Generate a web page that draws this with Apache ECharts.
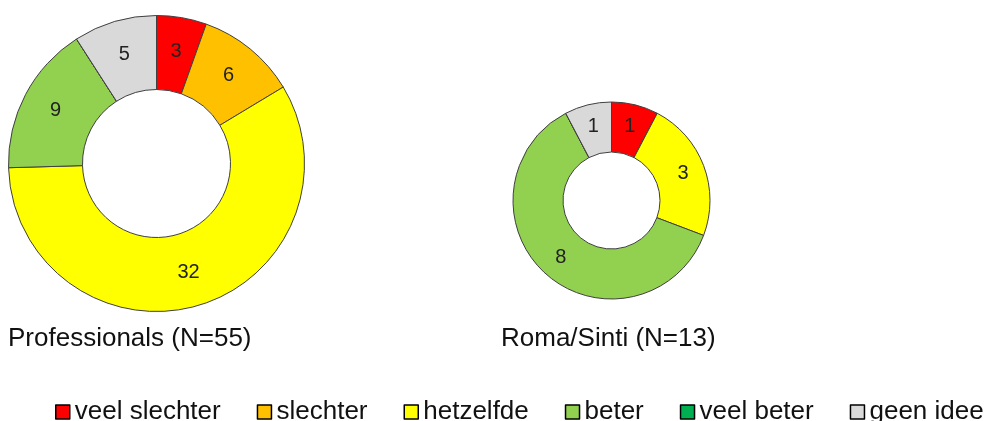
<!DOCTYPE html>
<html>
<head>
<meta charset="utf-8">
<script src="https://cdn.jsdelivr.net/npm/echarts@6/dist/echarts.min.js"></script>
<style>
html,body{margin:0;padding:0;background:#fff;}
#chart{width:989px;height:421px;}
</style>
</head>
<body>
<div id="chart"></div>
<script>
const categories = ['veel slechter', 'slechter', 'hetzelfde', 'beter', 'veel beter', 'geen idee'];
const colors = ['#FF0000', '#FFC000', '#FFFF00', '#92D050', '#00B050', '#D9D9D9'];
const professionals = [3, 6, 32, 9, 0, 5];
const romaSinti = [1, 0, 3, 8, 0, 1];
const titles = ['Professionals (N=55)', 'Roma/Sinti (N=13)'];

const FONT = '"Liberation Sans", Arial, sans-serif';

function buildData(values) {
  return categories.map((c, i) => ({
    name: c,
    value: values[i],
    itemStyle: { color: colors[i] }
  }));
}

function pieSeries(values, center, radius) {
  return {
    type: 'pie',
    center: center,
    radius: radius,
    startAngle: 90,
    clockwise: true,
    avoidLabelOverlap: false,
    silent: true,
    itemStyle: { borderColor: '#404040', borderWidth: 1 },
    label: {
      show: true,
      position: 'inside',
      formatter: p => (p.value ? String(p.value) : ''),
      fontFamily: FONT,
      fontSize: 20,
      color: '#222'
    },
    labelLine: { show: false },
    emphasis: { disabled: true },
    data: buildData(values)
  };
}

const chart = echarts.init(document.getElementById('chart'), null, { renderer: 'canvas' });
chart.setOption({
  animation: false,
  backgroundColor: '#fff',
  legend: {
    data: categories,
    left: 55,
    top: 399,
    width: 980,
    orient: 'horizontal',
    icon: 'rect',
    itemWidth: 14,
    itemHeight: 14,
    itemGap: 36,
    padding: 0,
    selectedMode: false,
    itemStyle: { borderColor: '#000', borderWidth: 1.5 },
    textStyle: { fontFamily: FONT, fontSize: 26, color: '#111' }
  },
  graphic: [
    {
      type: 'text', left: 8, top: 326,
      style: { text: titles[0], font: '26px ' + FONT, fill: '#111' }
    },
    {
      type: 'text', left: 501, top: 326,
      style: { text: titles[1], font: '26px ' + FONT, fill: '#111' }
    }
  ],
  series: [
    pieSeries(professionals, [156.5, 163.5], [74, 148]),
    pieSeries(romaSinti, [611.5, 200.5], [48.5, 98.5])
  ]
});
</script>
</body>
</html>
